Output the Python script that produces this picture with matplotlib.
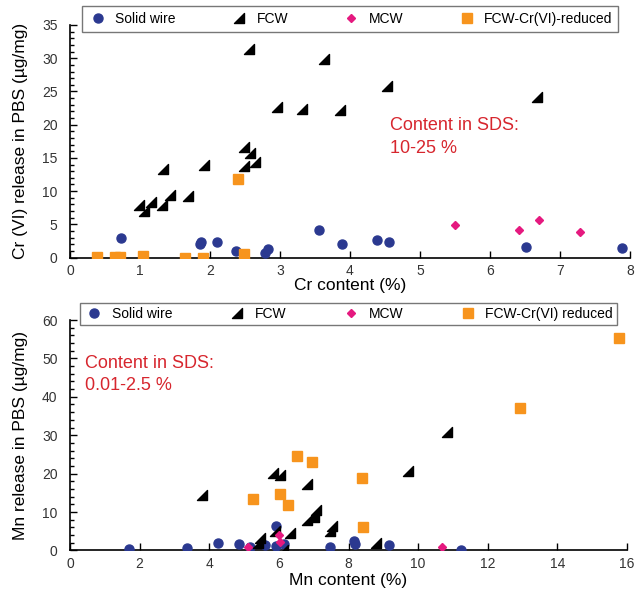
import matplotlib
matplotlib.use("Agg")
import matplotlib.pyplot as plt
from matplotlib.path import Path
from matplotlib.ticker import MultipleLocator

plt.rcParams['font.family'] = ['Liberation Sans', 'DejaVu Sans']

# ---- Top panel: Cr ----
cr_solid_x = [0.73, 1.85, 1.87, 2.10, 2.37, 2.78, 2.83, 3.55, 3.89, 4.39, 4.55, 6.52, 7.89]
cr_solid_y = [3.0, 2.0, 2.4, 2.4, 1.0, 0.65, 1.3, 4.2, 2.0, 2.6, 2.4, 1.6, 1.5]
cr_fcw_x = [2.55, 2.95, 3.31, 2.49, 2.57, 2.49, 2.64, 1.33, 1.91, 1.43, 1.69, 0.98, 1.15, 1.05, 1.31,
            3.63, 3.85, 4.53, 6.67]
cr_fcw_y = [31.4, 22.6, 22.4, 16.7, 15.8, 13.8, 14.4, 13.3, 13.9, 9.4, 9.3, 7.9, 8.3, 7.05, 7.9,
            29.9, 22.2, 25.8, 24.2]
cr_mcw_x = [5.50, 6.41, 6.70, 7.29]
cr_mcw_y = [4.9, 4.2, 5.6, 3.9]
cr_red_x = [2.40, 0.38, 0.64, 0.72, 1.04, 1.64, 1.90, 2.49]
cr_red_y = [11.8, 0.1, 0.05, 0.05, 0.3, 0.0, 0.0, 0.5]

# ---- Bottom panel: Mn ----
mn_solid_x = [1.70, 3.37, 4.26, 4.86, 5.16, 5.60, 5.91, 5.92, 6.16, 7.48, 8.16, 8.20, 9.15, 11.22]
mn_solid_y = [0.36, 0.7, 1.85, 1.75, 0.9, 1.3, 6.4, 1.1, 1.7, 1.0, 2.5, 1.7, 1.5, 0.2]
mn_fcw_x = [3.78, 5.84, 6.03, 6.80, 6.32, 5.89, 5.46, 5.41, 6.11, 6.80, 6.99, 7.07, 7.00,
            7.47, 7.52, 8.79, 9.71, 10.82]
mn_fcw_y = [14.3, 20.2, 19.6, 17.3, 4.6, 5.0, 3.1, 2.0, 0.1, 7.9, 9.2, 10.4, 8.6,
            5.1, 6.3, 1.85, 20.7, 30.8]
mn_mcw_x = [5.10, 5.99, 6.03, 10.69]
mn_mcw_y = [1.0, 4.0, 2.3, 0.9]
mn_red_x = [5.27, 6.51, 6.94, 6.02, 6.27, 8.40, 8.43, 12.93, 15.77]
mn_red_y = [13.3, 24.6, 22.9, 14.6, 11.7, 18.9, 6.0, 37.2, 55.4]

labels_top = ["Solid wire", "FCW", "MCW", "FCW-Cr(VI)-reduced"]
labels_bot = ["Solid wire", "FCW", "MCW", "FCW-Cr(VI) reduced"]

C_SOLID = "#2b3990"
C_FCW = "black"
C_MCW = "#e5197f"
C_RED = "#f7941d"
C_TXT = "#d7262e"

tri = Path([(-1, -1), (1, -1), (1, 1), (-1, -1)], [Path.MOVETO, Path.LINETO, Path.LINETO, Path.CLOSEPOLY])

fig = plt.figure(figsize=(6.36, 5.93), dpi=100)
ax1 = fig.add_axes([70/636, 1-257.5/593, 560/636, 232.5/593])
ax2 = fig.add_axes([70/636, 1-550.4/593, 557/636, 230.4/593])


def draw(ax, sx, sy, fx, fy, mx, my, rx, ry, labels):
    h1, = ax.plot(sx, sy, 'o', color=C_SOLID, ms=6.5, ls='none', label=labels[0], zorder=3)
    h2, = ax.plot(fx, fy, marker=tri, color=C_FCW, ms=6.5, ls='none', label=labels[1], zorder=3)
    h3, = ax.plot(mx, my, 'D', color=C_MCW, ms=4.5, ls='none', label=labels[2], zorder=3)
    h4, = ax.plot(rx, ry, 's', color=C_RED, ms=6.5, ls='none', label=labels[3], zorder=3)
    for s in ['top', 'right']:
        ax.spines[s].set_visible(False)
    for s in ['left', 'bottom']:
        ax.spines[s].set_linewidth(1.2)
    ax.tick_params(direction='in', length=5, width=1.0, labelsize=10, labelcolor='#333333')
    ax.tick_params(axis='y', pad=9)
    ax.tick_params(axis='x', pad=5)
    ax.tick_params(which='minor', direction='in', length=3, width=1.0)
    return [h1, h2, h3, h4]


hs = draw(ax1, cr_solid_x, cr_solid_y, cr_fcw_x, cr_fcw_y, cr_mcw_x, cr_mcw_y, cr_red_x, cr_red_y, labels_top)
ax1.set_xlim(0, 8)
ax1.set_ylim(0, 35)
ax1.xaxis.set_major_locator(MultipleLocator(1))
ax1.yaxis.set_major_locator(MultipleLocator(5))
ax1.yaxis.set_minor_locator(MultipleLocator(1))
ax1.set_xlabel("Cr content (%)", fontsize=12.5, labelpad=0)
ax1.set_ylabel("Cr (VI) release in PBS (µg/mg)", fontsize=12.5, labelpad=10)
ax1.text(4.57, 21.2, "Content in SDS:\n10-25 %", color=C_TXT, fontsize=13, va='top', ha='left', linespacing=1.45)
leg1 = ax1.legend(hs, labels_top, loc='center', bbox_to_anchor=(0.009, 0.966, 0.982, 0.12), mode='expand',
                  ncol=4, frameon=True, fancybox=False, edgecolor='#555555', fontsize=10,
                  handletextpad=0.5, borderpad=0.4, handlelength=1.5)
leg1.get_frame().set_linewidth(1.0)
leg1.set_zorder(5)

hs2 = draw(ax2, mn_solid_x, mn_solid_y, mn_fcw_x, mn_fcw_y, mn_mcw_x, mn_mcw_y, mn_red_x, mn_red_y, labels_bot)
ax2.set_xlim(0, 16)
ax2.set_ylim(0, 60)
ax2.xaxis.set_major_locator(MultipleLocator(2))
ax2.yaxis.set_major_locator(MultipleLocator(10))
ax2.yaxis.set_minor_locator(MultipleLocator(2))
ax2.set_xlabel("Mn content (%)", fontsize=12.5, labelpad=1)
ax2.set_ylabel("Mn release in PBS (µg/mg)", fontsize=12.5, labelpad=10)
ax2.text(0.43, 51.0, "Content in SDS:\n0.01-2.5 %", color=C_TXT, fontsize=13, va='top', ha='left', linespacing=1.45)
leg2 = ax2.legend(hs2, labels_bot, loc='center', bbox_to_anchor=(0.005, 0.97, 0.99, 0.11), mode='expand',
                  ncol=4, frameon=True, fancybox=False, edgecolor='#555555', fontsize=10,
                  handletextpad=0.5, borderpad=0.3, handlelength=1.5)
leg2.get_frame().set_linewidth(1.0)
leg2.set_zorder(5)

fig.savefig("out.png", dpi=100)
